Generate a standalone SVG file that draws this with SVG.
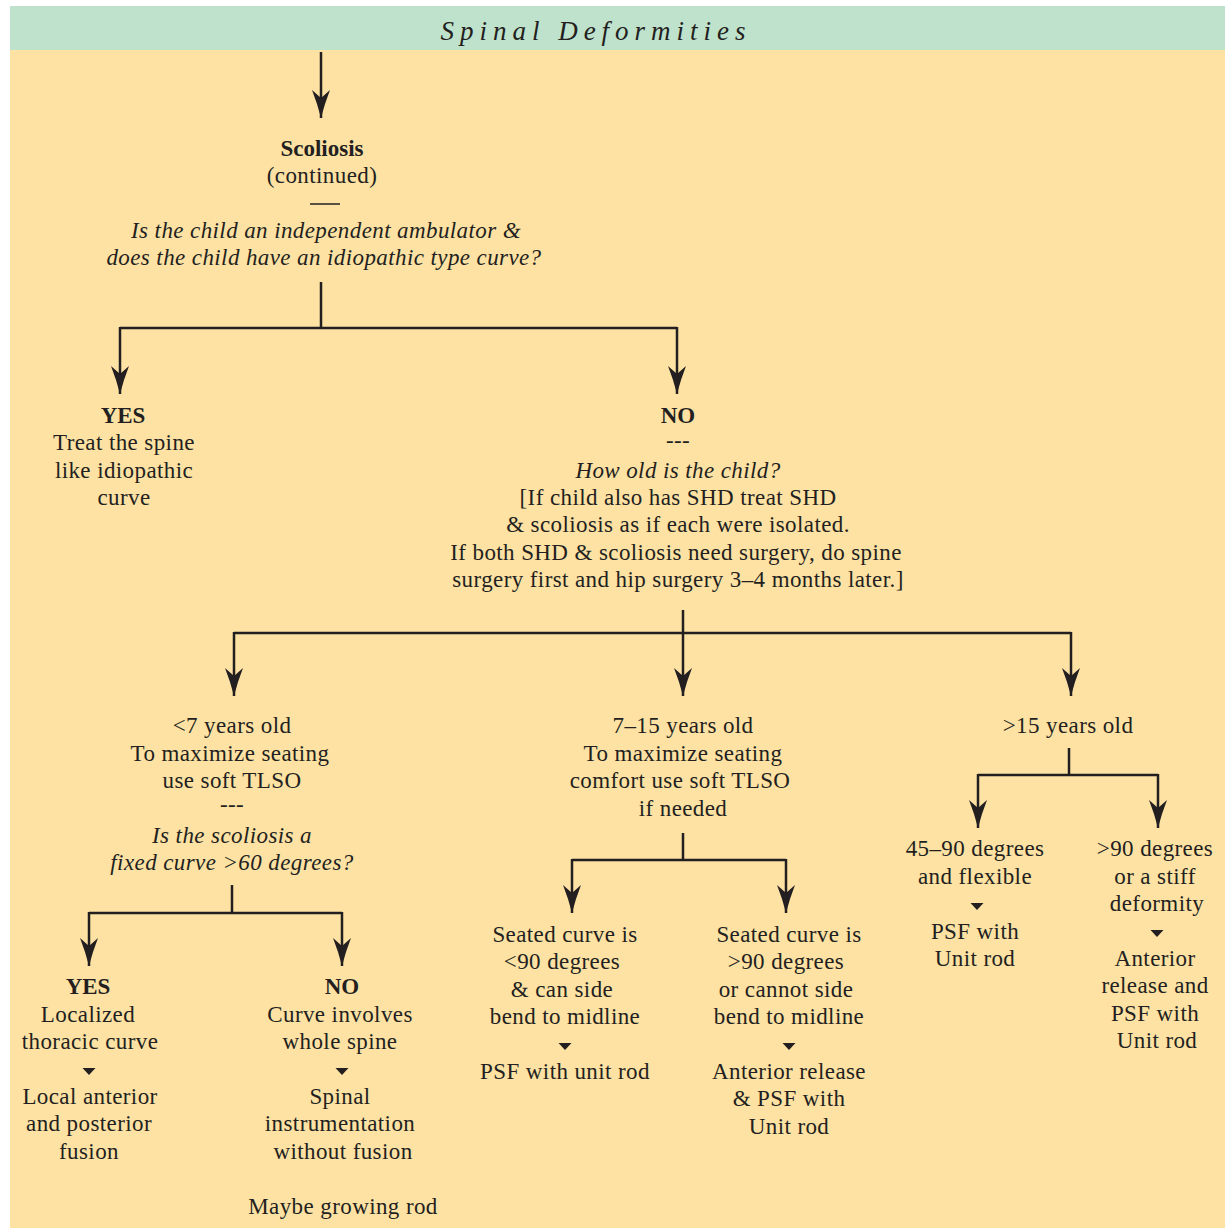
<svg xmlns="http://www.w3.org/2000/svg" width="1225" height="1228" viewBox="0 0 1225 1228">
<defs>
<style>
.t{font-family:"Liberation Serif","Times New Roman",serif;font-size:23px;letter-spacing:0.4px;fill:#231F20;text-anchor:middle}
.b{font-weight:bold;letter-spacing:0}
.i{font-style:italic}
.c{fill:none;stroke:#231F20;stroke-width:2.5}
.tri{fill:#231F20}
</style>
<marker id="ah" markerUnits="userSpaceOnUse" markerWidth="30" markerHeight="20" viewBox="-30 -10 30 20" refX="0" refY="0" orient="auto">
<path d="M0,0 Q-14,-3.5 -28,-9 L-20,0 L-28,9 Q-14,3.5 0,0Z" fill="#231F20"/>
</marker>
<path id="sm" d="M-6.5,-3 L6.5,-3 L0,4Z" class="tri"/>
</defs>
<rect x="0" y="0" width="1225" height="1228" fill="#FFFFFF"/>
<rect x="10" y="50" width="1215" height="1178" fill="#FDE2A4"/>
<rect x="10" y="6" width="1215" height="44" fill="#BFE2CC"/>
<text x="596" y="40" class="t i" style="font-size:27px;letter-spacing:6px">Spinal Deformities</text>

<g id="connectors">
<path class="c" d="M321,52 V118" marker-end="url(#ah)"/>
<path class="c" d="M321,282 V328"/>
<path class="c" d="M120,328 H677"/>
<path class="c" d="M120,327 V394" marker-end="url(#ah)"/>
<path class="c" d="M677,327 V394" marker-end="url(#ah)"/>
<path class="c" d="M683,610 V696" marker-end="url(#ah)"/>
<path class="c" d="M234,633 H1071"/>
<path class="c" d="M234,632 V696" marker-end="url(#ah)"/>
<path class="c" d="M1071,632 V696" marker-end="url(#ah)"/>
<path class="c" d="M232,885 V913"/>
<path class="c" d="M89,913 H342"/>
<path class="c" d="M89,912 V966" marker-end="url(#ah)"/>
<path class="c" d="M342,912 V966" marker-end="url(#ah)"/>
<path class="c" d="M683,833 V860"/>
<path class="c" d="M572,860 H786"/>
<path class="c" d="M572,859 V913" marker-end="url(#ah)"/>
<path class="c" d="M786,859 V913" marker-end="url(#ah)"/>
<path class="c" d="M1069,748 V775"/>
<path class="c" d="M978,775 H1158"/>
<path class="c" d="M978,774 V828" marker-end="url(#ah)"/>
<path class="c" d="M1158,774 V828" marker-end="url(#ah)"/>
</g>

<g id="scoliosis">
<text x="322" y="156" class="t b">Scoliosis</text>
<text x="322" y="183" class="t">(continued)</text>
<path d="M310,204 H340" stroke="#231F20" stroke-width="1.5"/>
<text x="326" y="238" class="t i">Is the child an independent ambulator &amp;</text>
<text x="324" y="265" class="t i">does the child have an idiopathic type curve?</text>
</g>

<g id="yes1">
<text x="123" y="423" class="t b">YES</text>
<text x="124" y="450" class="t">Treat the spine</text>
<text x="124" y="478" class="t">like idiopathic</text>
<text x="124" y="505" class="t">curve</text>
</g>

<g id="no1">
<text x="678" y="423" class="t b">NO</text>
<text x="678" y="448" class="t">---</text>
<text x="678" y="478" class="t i">How old is the child?</text>
<text x="678" y="505" class="t">[If child also has SHD treat SHD</text>
<text x="678" y="532" class="t">&amp; scoliosis as if each were isolated.</text>
<text x="676" y="560" class="t">If both SHD &amp; scoliosis need surgery, do spine</text>
<text x="678" y="587" class="t">surgery first and hip surgery 3–4 months later.]</text>
</g>

<g id="age-under7">
<text x="232" y="733" class="t">&lt;7 years old</text>
<text x="230" y="761" class="t">To maximize seating</text>
<text x="232" y="788" class="t">use soft TLSO</text>
<text x="232" y="812" class="t">---</text>
<text x="232" y="843" class="t i">Is the scoliosis a</text>
<text x="232" y="870" class="t i">fixed curve &gt;60 degrees?</text>
</g>

<g id="yes2">
<text x="88" y="994" class="t b">YES</text>
<text x="88" y="1022" class="t">Localized</text>
<text x="90" y="1049" class="t">thoracic curve</text>
<use href="#sm" x="89" y="1071"/>
<text x="90" y="1104" class="t">Local anterior</text>
<text x="89" y="1131" class="t">and posterior</text>
<text x="89" y="1159" class="t">fusion</text>
</g>

<g id="no2">
<text x="342" y="994" class="t b">NO</text>
<text x="340" y="1022" class="t">Curve involves</text>
<text x="340" y="1049" class="t">whole spine</text>
<use href="#sm" x="342" y="1071"/>
<text x="340" y="1104" class="t">Spinal</text>
<text x="340" y="1131" class="t">instrumentation</text>
<text x="343" y="1159" class="t">without fusion</text>
<text x="343" y="1214" class="t">Maybe growing rod</text>
</g>

<g id="age-7-15">
<text x="683" y="733" class="t">7–15 years old</text>
<text x="683" y="761" class="t">To maximize seating</text>
<text x="680" y="788" class="t">comfort use soft TLSO</text>
<text x="683" y="816" class="t">if needed</text>
</g>

<g id="seated-under90">
<text x="565" y="942" class="t">Seated curve is</text>
<text x="562" y="969" class="t">&lt;90 degrees</text>
<text x="562" y="997" class="t">&amp; can side</text>
<text x="565" y="1024" class="t">bend to midline</text>
<use href="#sm" x="565" y="1046"/>
<text x="565" y="1079" class="t">PSF with unit rod</text>
</g>

<g id="seated-over90">
<text x="789" y="942" class="t">Seated curve is</text>
<text x="786" y="969" class="t">&gt;90 degrees</text>
<text x="786" y="997" class="t">or cannot side</text>
<text x="789" y="1024" class="t">bend to midline</text>
<use href="#sm" x="789" y="1046"/>
<text x="789" y="1079" class="t">Anterior release</text>
<text x="789" y="1106" class="t">&amp; PSF with</text>
<text x="789" y="1134" class="t">Unit rod</text>
</g>

<g id="age-over15">
<text x="1068" y="733" class="t">&gt;15 years old</text>
</g>

<g id="flexible">
<text x="975" y="856" class="t">45–90 degrees</text>
<text x="975" y="884" class="t">and flexible</text>
<use href="#sm" x="977" y="906"/>
<text x="975" y="939" class="t">PSF with</text>
<text x="975" y="966" class="t">Unit rod</text>
</g>

<g id="stiff">
<text x="1155" y="856" class="t">&gt;90 degrees</text>
<text x="1155" y="884" class="t">or a stiff</text>
<text x="1157" y="911" class="t">deformity</text>
<use href="#sm" x="1157" y="933"/>
<text x="1155" y="966" class="t">Anterior</text>
<text x="1155" y="993" class="t">release and</text>
<text x="1155" y="1021" class="t">PSF with</text>
<text x="1157" y="1048" class="t">Unit rod</text>
</g>
</svg>
